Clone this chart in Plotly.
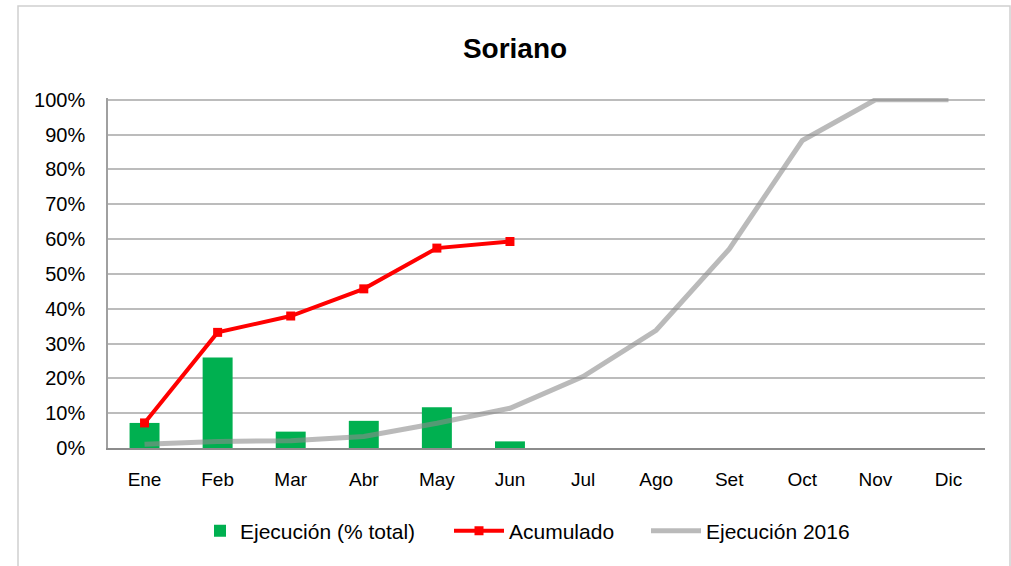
import plotly.graph_objects as go

months = ["Ene", "Feb", "Mar", "Abr", "May", "Jun", "Jul", "Ago", "Set", "Oct", "Nov", "Dic"]
ejecucion = [0.072, 0.260, 0.047, 0.078, 0.117, 0.019]
acumulado = [0.072, 0.332, 0.379, 0.457, 0.574, 0.593]
ejecucion_2016 = [0.011, 0.019, 0.021, 0.033, 0.071, 0.114, 0.205, 0.338, 0.571, 0.883, 1.0, 1.0]

FONT = "Liberation Sans, Arial, sans-serif"

fig = go.Figure()
fig.add_trace(go.Bar(
    x=months[:len(ejecucion)], y=ejecucion, name="Ejecución (% total)",
    marker=dict(color="#00b050", line=dict(width=0)), width=0.41, legend="legend",
))
fig.add_trace(go.Scatter(
    x=months, y=ejecucion_2016, name="Ejecución 2016", mode="lines",
    line=dict(color="rgba(140,140,140,0.6)", width=5), legend="legend3",
))
fig.add_trace(go.Scatter(
    x=months[:len(acumulado)], y=acumulado, name="Acumulado", mode="lines+markers",
    line=dict(color="#ff0000", width=4), marker=dict(symbol="square", size=9, color="#ff0000"),
    legend="legend2",
))

L, R, T, B = 108, 26, 98, 118
W, H = 1011, 566
pw, ph = W - L - R, H - T - B

def px(x):
    return (x - L) / pw

def py(y):
    return (H - B - y) / ph

legend_common = dict(orientation="h", yanchor="middle", xanchor="left", y=py(531),
                     font=dict(family=FONT, size=21, color="#000"), bgcolor="rgba(0,0,0,0)")

fig.update_layout(
    width=W, height=H,
    margin=dict(l=L, r=R, t=T, b=B),
    paper_bgcolor="white", plot_bgcolor="white",
    font=dict(family=FONT, color="#000"),
    title=dict(text="<b>Soriano</b>", x=515 / W, xanchor="center", xref="container",
               y=1 - 48 / H, yanchor="middle", font=dict(family=FONT, size=28, color="#000")),
    showlegend=True,
    legend=dict(x=px(200), **legend_common),
    legend2=dict(x=px(449), itemwidth=50, **legend_common),
    legend3=dict(x=px(646), itemwidth=50, **legend_common),
    xaxis=dict(
        showgrid=False, showline=True, linecolor="#8c8c8c", linewidth=1.5,
        ticks="outside", ticklen=13, tickcolor="rgba(0,0,0,0)",
        tickfont=dict(family=FONT, size=19, color="#000"),
        categoryorder="array", categoryarray=months, range=[-0.5, 11.5],
    ),
    yaxis=dict(
        range=[0, 1.005], tickvals=[i / 10 for i in range(11)], tickformat=".0%",
        showgrid=True, gridcolor="#bcbcbc", gridwidth=1.5, zeroline=False,
        showline=True, linecolor="#a0a0a0", linewidth=1.5,
        ticks="outside", ticklen=17, tickcolor="rgba(0,0,0,0)",
        tickfont=dict(family=FONT, size=20, color="#000"),
    ),
    shapes=[dict(type="rect", xref="paper", yref="paper",
                 x0=px(18), x1=px(1010), y0=py(575), y1=py(6),
                 line=dict(color="#d0d0d0", width=1.5), fillcolor="rgba(0,0,0,0)", layer="below")],
)

fig.write_html("out.html", config={"displayModeBar": False},
               post_script="document.body.style.margin='0';")
